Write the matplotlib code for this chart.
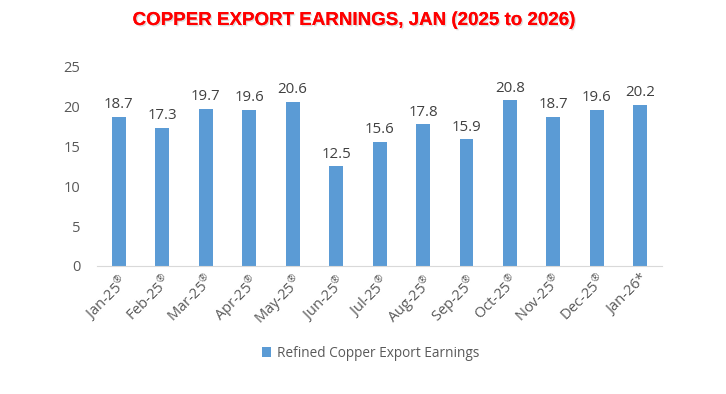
import matplotlib
matplotlib.use("Agg")
import matplotlib.pyplot as plt
import matplotlib.patheffects as pe

months = ["Jan-25", "Feb-25", "Mar-25", "Apr-25", "May-25", "Jun-25",
          "Jul-25", "Aug-25", "Sep-25", "Oct-25", "Nov-25", "Dec-25", "Jan-26"]
marks = ["®"] * 12 + ["*"]
earnings = [18.7, 17.3, 19.7, 19.6, 20.6, 12.5, 15.6, 17.8, 15.9, 20.8, 18.7, 19.6, 20.2]
yticks = [0, 5, 10, 15, 20, 25]

plt.rcParams['font.family'] = ['Open Sans', 'DejaVu Sans']
plt.rcParams['mathtext.fontset'] = 'custom'
plt.rcParams['mathtext.rm'] = 'Open Sans'
plt.rcParams['mathtext.default'] = 'rm'

fig = plt.figure(figsize=(7.26, 3.94), dpi=100)
ax = fig.add_axes([0.1336, 0.3249, 0.7784, 0.5051])

x = range(len(months))
ax.bar(x, earnings, width=0.32, color='#5B9BD5',
       label='Refined Copper Export Earnings')
for xi, v in zip(x, earnings):
    ax.text(xi, v + 0.6, f"{v:.1f}", ha='center', va='bottom',
            fontsize=10.8, color='#404040')

labels = []
for m, k in zip(months, marks):
    if k == "®":
        labels.append(m + r"$^{\circledR}$")
    else:
        labels.append(m + "*")

ax.set_xlim(-0.5, len(months) - 0.5)
ax.set_ylim(0, 25)
ax.set_yticks(yticks)
ax.set_xticks(list(x))
ax.set_xticklabels(labels, rotation=45, ha='right', rotation_mode='anchor')
ax.tick_params(axis='both', length=0, labelsize=10.5, colors='#595959')
ax.tick_params(axis='y', pad=12)
ax.tick_params(axis='x', pad=4)
for s in ['top', 'right', 'left']:
    ax.spines[s].set_visible(False)
ax.spines['bottom'].set_color('#D9D9D9')

fig.text(0.487, 0.948, "COPPER EXPORT EARNINGS, JAN (2025 to 2026)",
         ha='center', va='center', fontsize=13.5, fontweight='bold',
         color='#FF0000', family='Liberation Sans',
         path_effects=[pe.withSimplePatchShadow(offset=(1, -1), shadow_rgbFace='#BBBBBB', alpha=0.5),
                       pe.Normal()])

fig.legend(loc='center', bbox_to_anchor=(0.51, 0.103), frameon=False,
           fontsize=9.8, labelcolor='#595959', handlelength=0.7,
           handleheight=0.7, handletextpad=0.4)

fig.savefig("out.png", dpi=100)
